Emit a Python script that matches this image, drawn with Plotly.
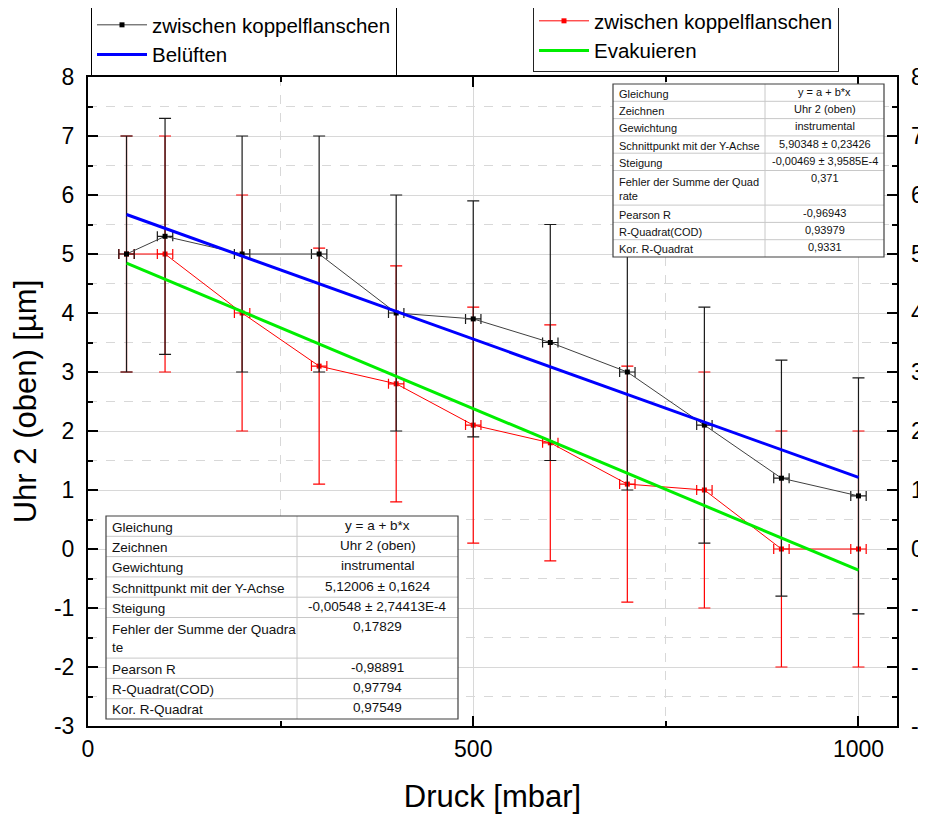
import plotly.graph_objects as go

# ---------------- data ----------------
druck = [50, 100, 200, 300, 400, 500, 600, 700, 800, 900, 1000]
belueften_y = [5.0, 5.3, 5.0, 5.0, 4.0, 3.9, 3.5, 3.0, 2.1, 1.2, 0.9]
evakuieren_y = [5.0, 5.0, 4.0, 3.1, 2.8, 2.1, 1.8, 1.1, 1.0, 0.0, 0.0]
y_err = [2, 2, 2, 2, 2, 2, 2, 2, 2, 2, 2]
x_err = [10, 10, 10, 10, 10, 10, 10, 10, 10, 10, 10]

fit_x = [50, 1000]
belueften_fit_y = [5.669, 1.213]
evakuieren_fit_y = [4.846, -0.360]

table_labels = ["Gleichung", "Zeichnen", "Gewichtung", "Schnittpunkt mit der Y-Achse",
                "Steigung", "Fehler der Summe der Quadra<br>te", "Pearson R",
                "R-Quadrat(COD)", "Kor. R-Quadrat"]
table_labels_small = ["Gleichung", "Zeichnen", "Gewichtung", "Schnittpunkt mit der Y-Achse",
                      "Steigung", "Fehler der Summe der Quad<br>rate", "Pearson R",
                      "R-Quadrat(COD)", "Kor. R-Quadrat"]
belueften_table = ["y = a + b*x", "Uhr 2 (oben)", "instrumental", "5,90348 ± 0,23426",
                   "-0,00469 ± 3,9585E-4", "0,371", "-0,96943", "0,93979", "0,9331"]
evakuieren_table = ["y = a + b*x", "Uhr 2 (oben)", "instrumental", "5,12006 ± 0,1624",
                    "-0,00548 ± 2,74413E-4", "0,17829", "-0,98891", "0,97794", "0,97549"]
row_units = [1, 1, 1, 1, 1, 2, 1, 1, 1]

y_ticks = [8, 7, 6, 5, 4, 3, 2, 1, 0, -1, -2, -3]
y_ticktext = ["8", "7", "6", "5", "4", "3", "2", "1", "0", "-1", "-2", "-3"]
x_ticks = [0, 500, 1000]
x_ticktext = ["0", "500", "1000"]

# ---------------- layout geometry (screenshot pixel space) ----------------
OFF = 8                     # page body margin of the html page
FW, FH = 926 - OFF, 822 - 2 * OFF
L, R, T, B = 88, 897, 77, 726
PW, PH = R - L, B - T
FONT = "Liberation Sans, Arial, sans-serif"


def pxx(x):
    return (x - L) / PW


def pxy(y):
    return (B - y) / PH


fig = go.Figure()

fig.add_trace(go.Scatter(
    x=druck, y=evakuieren_y, mode="lines+markers", name="zwischen koppelflanschen",
    line=dict(color="#ff0000", width=1),
    marker=dict(symbol="square", size=5, color="#ff0000"),
    error_y=dict(type="data", array=y_err, color="#ff0000", thickness=1.2, width=6),
    error_x=dict(type="data", array=x_err, color="#ff0000", thickness=1.2, width=5),
    legend="legend2",
))
fig.add_trace(go.Scatter(
    x=druck, y=belueften_y, mode="lines+markers", name="zwischen koppelflanschen",
    line=dict(color="#404040", width=1),
    marker=dict(symbol="square", size=5, color="#000000"),
    error_y=dict(type="data", array=y_err, color="#1a1a1a", thickness=1.2, width=6),
    error_x=dict(type="data", array=x_err, color="#1a1a1a", thickness=1.2, width=5),
    legend="legend",
))
fig.add_trace(go.Scatter(
    x=fit_x, y=evakuieren_fit_y, mode="lines", name="Evakuieren",
    line=dict(color="#00ee00", width=3), legend="legend2",
))
fig.add_trace(go.Scatter(
    x=fit_x, y=belueften_fit_y, mode="lines", name="Belüften",
    line=dict(color="#0000ff", width=3), legend="legend",
))

shapes = []
annotations = []


def add_table(left, right, divider, top, unit, labels, values, fsize):
    bottom = top + unit * sum(row_units)
    shapes.append(dict(type="rect", xref="paper", yref="paper", layer="above",
                       x0=pxx(left), x1=pxx(right), y0=pxy(top), y1=pxy(bottom),
                       fillcolor="white", line=dict(width=0)))
    y = top
    for i, (lab, val) in enumerate(zip(labels, values)):
        h = unit * row_units[i]
        if i > 0:
            shapes.append(dict(type="line", xref="paper", yref="paper", layer="above",
                               x0=pxx(left), x1=pxx(right), y0=pxy(y), y1=pxy(y),
                               line=dict(color="#c8c8c8", width=1)))
        annotations.append(dict(xref="paper", yref="paper", x=pxx(left + 4), y=pxy(y + h / 2 + 1),
                                xanchor="left", yanchor="middle", align="left", showarrow=False,
                                text=lab, font=dict(family=FONT, size=fsize, color="#111")))
        annotations.append(dict(xref="paper", yref="paper", x=pxx((divider + right) / 2),
                                y=pxy(y + unit / 2 - 1),
                                xanchor="center", yanchor="middle", showarrow=False,
                                text=val, font=dict(family=FONT, size=fsize, color="#111")))
        y += h
    shapes.append(dict(type="line", xref="paper", yref="paper", layer="above",
                       x0=pxx(divider), x1=pxx(divider), y0=pxy(top), y1=pxy(bottom),
                       line=dict(color="#c8c8c8", width=1)))
    shapes.append(dict(type="rect", xref="paper", yref="paper", layer="above",
                       x0=pxx(left), x1=pxx(right), y0=pxy(top), y1=pxy(bottom),
                       line=dict(color="#404040", width=1.2)))


add_table(613, 884, 765, 84, 17.3, table_labels_small, belueften_table, 11)
add_table(106, 458, 297, 516, 20.3, table_labels, evakuieren_table, 13.5)

axis_common = dict(showline=True, linecolor="black", linewidth=2, mirror="ticks",
                   ticks="inside", ticklen=10, tickwidth=1.5, tickcolor="black",
                   tickfont=dict(family=FONT, size=23, color="black"),
                   showgrid=True, gridcolor="#d8d8d8", gridwidth=1, zeroline=False,
                   automargin=False)

fig.update_layout(
    width=FW, height=FH,
    margin=dict(l=L - OFF, r=FW - (R - OFF), t=T - OFF, b=FH - (B - OFF), autoexpand=False),
    paper_bgcolor="white", plot_bgcolor="white",
    font=dict(family=FONT, color="black"),
    xaxis=dict(range=[0, 1050], tickvals=x_ticks, ticktext=x_ticktext, **axis_common,
               ticklabelstandoff=1,
               minor=dict(dtick=250, tick0=0, ticks="inside", ticklen=5, tickcolor="black",
                          showgrid=True, gridcolor="#d8d8d8", griddash="dash", gridwidth=1),
               title=dict(text="Druck [mbar]", font=dict(family=FONT, size=31), standoff=29)),
    yaxis=dict(range=[-3, 8], tickvals=y_ticks, ticktext=y_ticktext, **axis_common,
               ticklabelstandoff=7,
               minor=dict(dtick=0.5, tick0=0, ticks="inside", ticklen=5, tickcolor="black",
                          showgrid=True, gridcolor="#d8d8d8", griddash="dash", gridwidth=1),
               title=dict(text="Uhr 2 (oben) [µm]", font=dict(family=FONT, size=31), standoff=9)),
    yaxis2=dict(range=[-3, 8], tickvals=y_ticks, ticktext=y_ticktext, overlaying="y", side="right",
                showgrid=False, zeroline=False, showline=False, ticks="", automargin=False,
                ticklabelstandoff=13,
                tickfont=dict(family=FONT, size=23, color="black")),
    legend=dict(x=pxx(91), y=pxy(4), xanchor="left", yanchor="top",
                bgcolor="white", bordercolor="black", borderwidth=1,
                font=dict(family=FONT, size=20.5, color="black"), itemwidth=50,
                tracegroupgap=0),
    legend2=dict(x=pxx(533), y=pxy(0), xanchor="left", yanchor="top",
                 bgcolor="white", bordercolor="#222", borderwidth=1,
                 font=dict(family=FONT, size=20.5, color="black"), itemwidth=50,
                 tracegroupgap=0),
    shapes=shapes,
    annotations=annotations,
    showlegend=True,
)

# invisible trace so the right axis is drawn
fig.add_trace(go.Scatter(x=[None], y=[None], yaxis="y2", showlegend=False, hoverinfo="skip"))

fig.write_html("out.html")
